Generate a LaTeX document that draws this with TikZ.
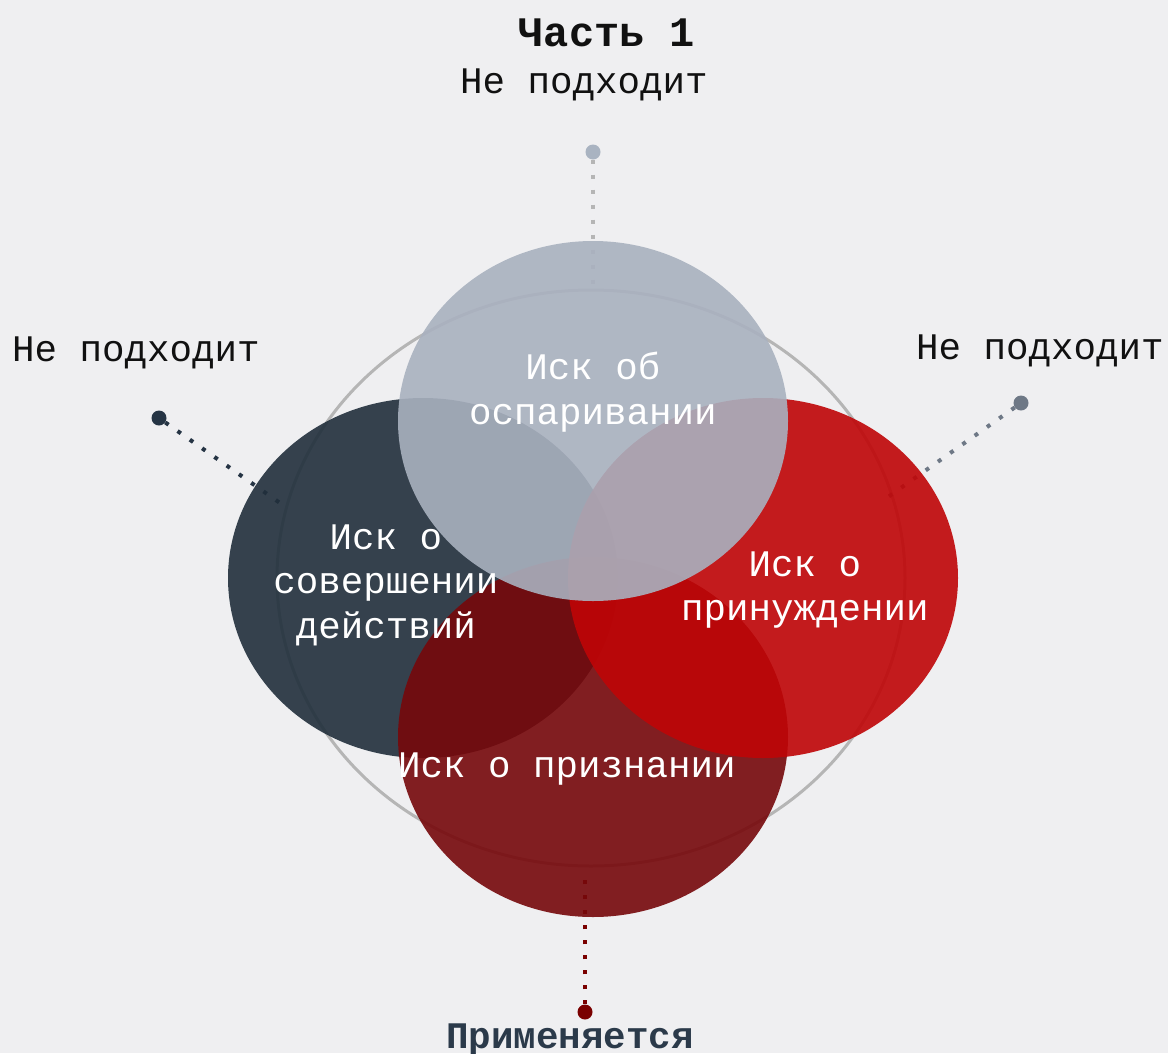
\documentclass[tikz,border=0pt]{standalone}
\usepackage{fontspec}
\setmainfont{Liberation Mono}
\usetikzlibrary{shapes.geometric}
\definecolor{bgc}{HTML}{EFEFF1}
\definecolor{cslate}{RGB}{33,47,60}
\definecolor{cgray}{RGB}{169,177,191}
\definecolor{cred}{RGB}{191,5,7}
\definecolor{cdred}{RGB}{118,8,11}
\definecolor{dottop}{HTML}{A9B3C1}
\definecolor{dotleft}{HTML}{253444}
\definecolor{dotright}{HTML}{6E7886}
\definecolor{dotbot}{HTML}{7A0000}
\definecolor{ringc}{HTML}{B5B5B5}
\definecolor{titlec}{HTML}{111111}
\definecolor{applyc}{HTML}{2B3A4A}
\begin{document}
\begin{tikzpicture}[x=1pt,y=-1pt,
  blob/.style={ellipse, draw=none, minimum width=390pt, minimum height=360pt, inner sep=0pt, fill opacity=0.9},
  pin/.style={circle, minimum size=15pt, inner sep=0pt},
  dotline/.style={line width=4pt, dash pattern=on 4pt off 11pt},
  lbl/.style={font=\fontsize{37.5}{44.5}\selectfont, text=white, align=center, inner sep=0pt},
  captext/.style={font=\fontsize{37.5}{44.5}\selectfont, text=titlec, inner sep=0pt}
]
\fill[bgc] (0,0) rectangle (1168,1053);
\useasboundingbox (0,0) rectangle (1168,1053);

% ring
\node[ellipse, draw=ringc, line width=3pt, minimum width=628pt, minimum height=576pt, inner sep=0pt] (ring) at (591,578) {};

% pins and connectors
\node[pin, fill=dottop] (ptop) at (593,152) {};
\coordinate (etop) at (593,285);
\node[pin, fill=dotleft] (pleft) at (159,418) {};
\coordinate (eleft) at (280,503);
\node[pin, fill=dotright] (pright) at (1021,403) {};
\coordinate (eright) at (888,497);
\node[pin, fill=dotbot] (pbot) at (585,1012) {};
\coordinate (ebot) at (585,878);

\draw[dotline, draw=ringc] (ptop) -- (etop);
\draw[dotline, draw=dotleft] (pleft) -- (eleft);
\draw[dotline, draw=dotright] (pright) -- (eright);
\draw[dotline, draw=dotbot] (pbot) -- (ebot);

% blobs
\node[blob, fill=cslate] (bleft) at (423,578) {};
\node[blob, fill=cdred] (bbot) at (593,737) {};
\node[blob, fill=cred] (bright) at (763,578) {};
\node[blob, fill=cgray] (btop) at (593,421) {};

% labels
\node[lbl] (ltop) at (593,392) {Иск об\\оспаривании};
\node[lbl] (lleft) at (386,585) {Иск о\\совершении\\действий};
\node[lbl] (lright) at (805,590) {Иск о\\принуждении};
\node[lbl] (lbot) at (567,769) {Иск о признании};

% captions
\node[font=\fontsize{42}{48}\selectfont\bfseries, text=titlec, inner sep=0pt] (title) at (607,33) {Часть 1};
\node[captext] (ntop) at (584,85) {Не подходит};
\node[captext] (nleft) at (136,353) {Не подходит};
\node[captext] (nright) at (1040,351) {Не подходит};
\node[font=\fontsize{37.5}{44.5}\selectfont\bfseries, text=applyc, inner sep=0pt] (apply) at (570,1040) {Применяется};
\end{tikzpicture}
\end{document}
